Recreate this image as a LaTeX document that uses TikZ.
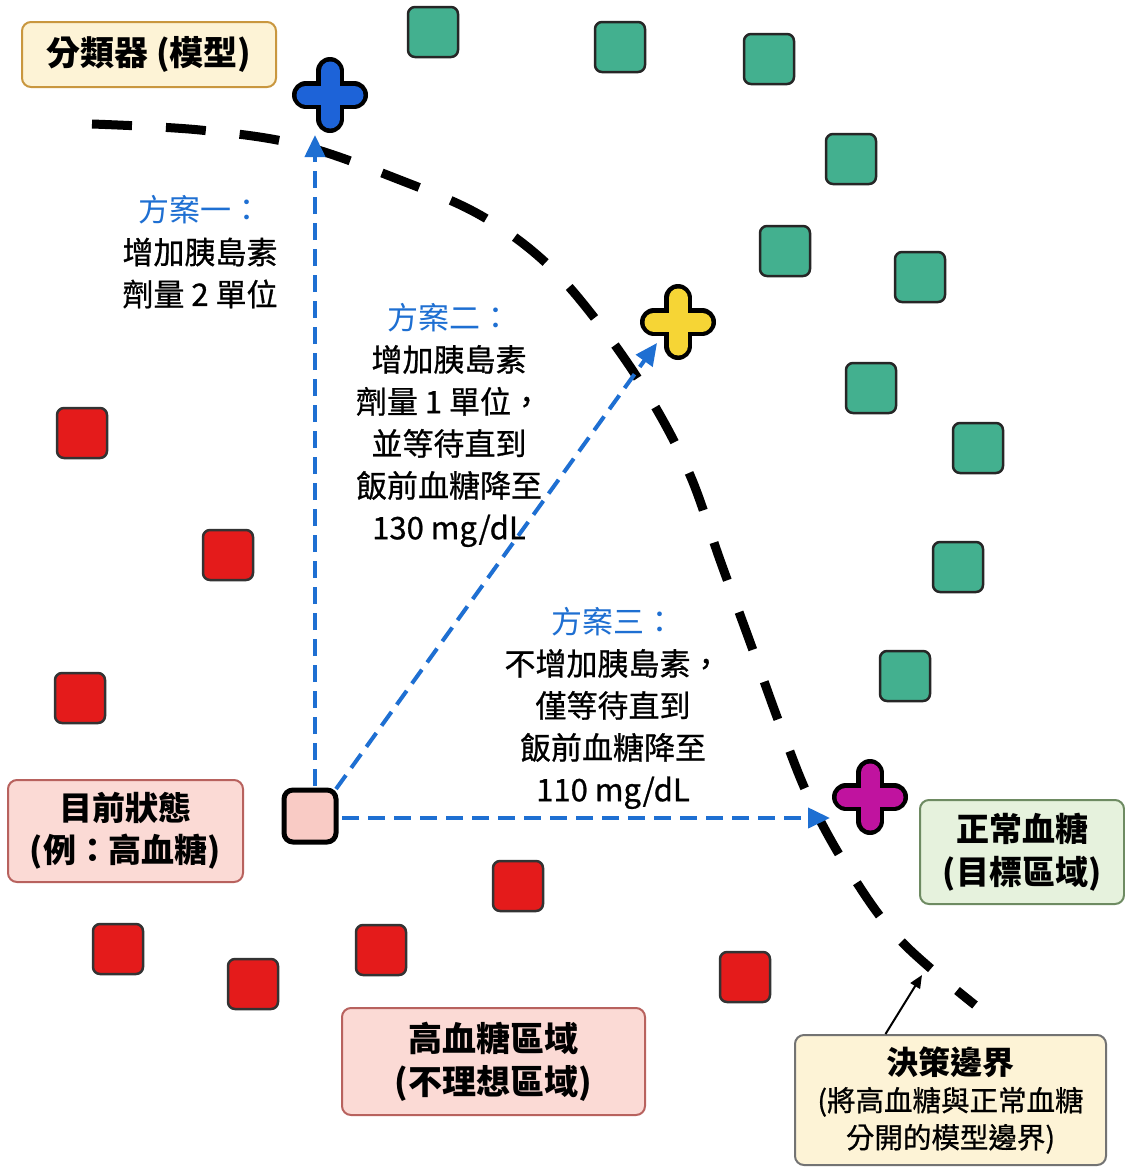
\documentclass[tikz,border=0pt]{standalone}
\usepackage{fontspec}
\setmainfont{Noto Sans CJK TC}
\newfontfamily\medfont[FakeBold=0.8]{Noto Sans CJK TC}
\usetikzlibrary{arrows.meta}
\definecolor{planblue}{HTML}{1E6FD2}
\definecolor{redsq}{HTML}{E41B1B}
\definecolor{greensq}{HTML}{43B08F}
\definecolor{creamfill}{HTML}{FDF3D6}
\definecolor{creamdraw}{HTML}{C9973F}
\definecolor{pinkfill}{HTML}{FBDAD5}
\definecolor{pinkdraw}{HTML}{B8625E}
\definecolor{greenfill}{HTML}{E6F2DD}
\definecolor{greendraw}{HTML}{6E8B62}
\definecolor{curfill}{HTML}{F9CBC5}
\definecolor{crossblue}{HTML}{1D63D8}
\definecolor{crossyellow}{HTML}{F6D535}
\definecolor{crossmag}{HTML}{C0139F}
\tikzset{
  box/.style={rounded corners=9pt, line width=2pt, align=center, inner sep=0pt},
  planlabel/.style={align=center, inner sep=0pt, font=\medfont\fontsize{31}{42}\selectfont},
  redbox/.style={draw=black!80, line width=2.5pt, fill=redsq, rounded corners=7pt, minimum size=50pt, inner sep=0pt},
  greenbox/.style={draw=black!85, line width=2.5pt, fill=greensq, rounded corners=7pt, minimum size=50pt, inner sep=0pt},
  planarrow/.style={draw=planblue, line width=4pt, dash pattern=on 17pt off 9pt, -{Triangle[length=22pt,width=20pt]}},
}
\newcommand{\mycross}[3]{%
  \draw[line width=28pt, line cap=round, black] (#1,#2) ++(-24,0) -- ++(48,0) (#1,#2) ++(0,-24) -- ++(0,48);
  \draw[line width=19pt, line cap=round, #3] (#1,#2) ++(-24,0) -- ++(48,0) (#1,#2) ++(0,-24) -- ++(0,48);
}
\newcommand{\planhead}[1]{{\rmfamily\mdseries\color{planblue}#1}}
\begin{document}
\begin{tikzpicture}[x=1pt, y=-1pt]
\fill[white] (0,0) rectangle (1125,1168);
\useasboundingbox (0,0) rectangle (1125,1168);

% decision boundary
\draw[line width=9pt, dash pattern=on 40pt off 34pt] plot[smooth, tension=0.6] coordinates {(92,124) (200,130) (300,145) (400,180) (480,215) (545,262) (600,325) (650,398) (690,475) (720,560) (750,642) (780,725) (810,800) (850,872) (900,940) (975,1005)};

% red squares
\node[redbox] (r1) at (82,433) {};
\node[redbox] (r2) at (228,555) {};
\node[redbox] (r3) at (80,698) {};
\node[redbox] (r4) at (518,886) {};
\node[redbox] (r5) at (118,949) {};
\node[redbox] (r6) at (253,984) {};
\node[redbox] (r7) at (381,950) {};
\node[redbox] (r8) at (745,977) {};

% green squares
\node[greenbox] (g1) at (433,32) {};
\node[greenbox] (g2) at (620,47) {};
\node[greenbox] (g3) at (769,59) {};
\node[greenbox] (g4) at (851,159) {};
\node[greenbox] (g5) at (785,251) {};
\node[greenbox] (g6) at (920,277) {};
\node[greenbox] (g7) at (871,388) {};
\node[greenbox] (g8) at (978,448) {};
\node[greenbox] (g9) at (958,567) {};
\node[greenbox] (g10) at (905,676) {};

% current state
\node[draw=black, line width=5pt, fill=curfill, rounded corners=9pt, minimum size=52pt, inner sep=0pt] (cur) at (310,816) {};

% crosses
\mycross{330}{95}{crossblue}
\mycross{678}{322}{crossyellow}
\mycross{870}{797}{crossmag}
\coordinate (tip1) at (315,135);
\coordinate (tip2) at (657,343);
\coordinate (tip3) at (830,818);
\coordinate (s1) at (315,786);
\coordinate (s2) at (336,789);
\coordinate (s3) at (342,818);

% plan arrows
\draw[planarrow] (s1) -- (tip1);
\draw[planarrow] (s2) -- (tip2);
\draw[planarrow] (s3) -- (tip3);

% plan labels
\node[planlabel] (p1) at (200,252) {\planhead{方案一：}\\增加胰島素\\劑量 2 單位};
\node[planlabel] (p2) at (449,425) {\planhead{方案二：}\\增加胰島素\\劑量 1 單位，\\並等待直到\\飯前血糖降至\\130 mg/dL};
\node[planlabel] (p3) at (613,708) {\planhead{方案三：}\\不增加胰島素，\\僅等待直到\\飯前血糖降至\\110 mg/dL};

% boxes
\node[box, fill=creamfill, draw=creamdraw, minimum width=254pt, minimum height=65pt, font=\bfseries\fontsize{34}{42}\selectfont] (clf) at (149,54.5) {分類器 (模型)};
\node[box, fill=pinkfill, draw=pinkdraw, minimum width=235pt, minimum height=102pt, font=\bfseries\fontsize{33}{42}\selectfont] (state) at (125.5,831) {目前狀態\\(例：高血糖)};
\node[box, fill=greenfill, draw=greendraw, minimum width=204pt, minimum height=104pt, font=\bfseries\fontsize{33}{43}\selectfont] (normal) at (1022,852) {正常血糖\\(目標區域)};
\node[box, fill=pinkfill, draw=pinkdraw, minimum width=303pt, minimum height=107pt, font=\bfseries\fontsize{34}{43}\selectfont] (high) at (493.5,1061.5) {高血糖區域\\(不理想區域)};
\node[box, fill=creamfill, draw=black!55, minimum width=311pt, minimum height=130pt, font=\bfseries\fontsize{32}{37}\selectfont] (db) at (950.5,1100) {決策邊界\\{\mdseries\medfont\fontsize{28.5}{37}\selectfont (將高血糖與正常血糖}\\{\mdseries\medfont\fontsize{28.5}{37}\selectfont 分開的模型邊界)}};

\coordinate (dbtip) at (922,975);
\draw[line width=2pt, -{Triangle[length=13pt,width=11pt]}] (db.north) ++(-65,0) -- (dbtip);
\end{tikzpicture}
\end{document}
